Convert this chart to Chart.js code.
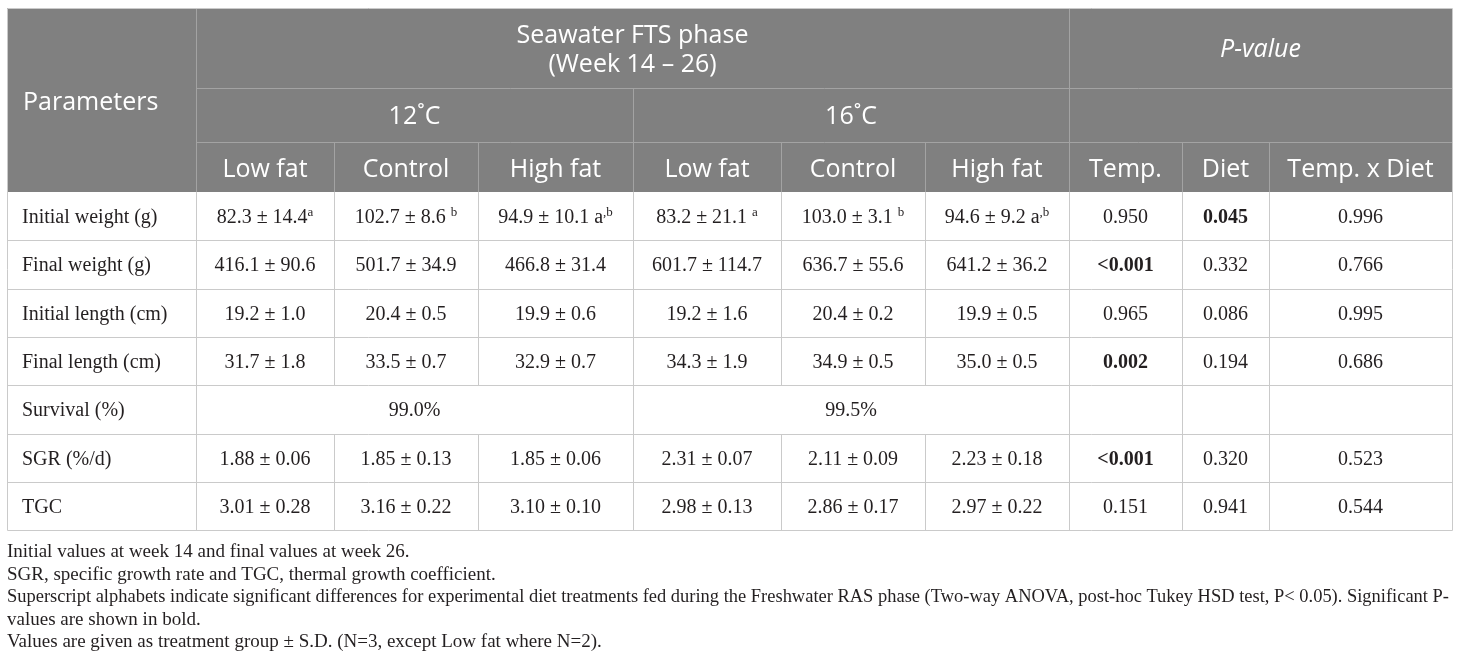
<!DOCTYPE html>
<html>
<head>
<meta charset="utf-8">
<script src="https://cdn.jsdelivr.net/npm/chart.js@4.4.1/dist/chart.umd.min.js"></script>
<style>
  html, body { margin: 0; padding: 0; background: #ffffff; }
  #wrap { width: 1460px; height: 667px; position: relative; }
</style>
</head>
<body>
<div id="wrap"><canvas id="myChart"></canvas></div>
<script>
// table content
const parameters = ['Initial weight (g)', 'Final weight (g)', 'Initial length (cm)', 'Final length (cm)', 'Survival (%)', 'SGR (%/d)', 'TGC'];
const temps = ['12\u02DAC', '16\u02DAC'];
const diets = ['Low fat', 'Control', 'High fat'];
const pHeaders = ['Temp.', 'Diet', 'Temp. x Diet'];

// '^' starts a superscript
const lowFat12 = ['82.3 ± 14.4^a', '416.1 ± 90.6', '19.2 ± 1.0', '31.7 ± 1.8', '', '1.88 ± 0.06', '3.01 ± 0.28'];
const control12 = ['102.7 ± 8.6 ^b', '501.7 ± 34.9', '20.4 ± 0.5', '33.5 ± 0.7', '', '1.85 ± 0.13', '3.16 ± 0.22'];
const highFat12 = ['94.9 ± 10.1 a^,b', '466.8 ± 31.4', '19.9 ± 0.6', '32.9 ± 0.7', '', '1.85 ± 0.06', '3.10 ± 0.10'];
const lowFat16 = ['83.2 ± 21.1 ^a', '601.7 ± 114.7', '19.2 ± 1.6', '34.3 ± 1.9', '', '2.31 ± 0.07', '2.98 ± 0.13'];
const control16 = ['103.0 ± 3.1 ^b', '636.7 ± 55.6', '20.4 ± 0.2', '34.9 ± 0.5', '', '2.11 ± 0.09', '2.86 ± 0.17'];
const highFat16 = ['94.6 ± 9.2 a^,b', '641.2 ± 36.2', '19.9 ± 0.5', '35.0 ± 0.5', '', '2.23 ± 0.18', '2.97 ± 0.22'];
const survival = ['99.0%', '99.5%'];

const pTemp = ['0.950', '<0.001', '0.965', '0.002', '', '<0.001', '0.151'];
const pDiet = ['0.045', '0.332', '0.086', '0.194', '', '0.320', '0.941'];
const pInteraction = ['0.996', '0.766', '0.995', '0.686', '', '0.523', '0.544'];

const notes = [
  'Initial values at week 14 and final values at week 26.',
  'SGR, specific growth rate and TGC, thermal growth coefficient.',
  'Superscript alphabets indicate significant differences for experimental diet treatments fed during the Freshwater RAS phase (Two-way ANOVA, post-hoc Tukey HSD test, P< 0.05). Significant P-',
  'values are shown in bold.',
  'Values are given as treatment group ± S.D. (N=3, except Low fat where N=2).'
];

// layout (in page pixels, mapped through the scales)
const colEdges = [7, 196, 334, 478, 633, 781, 925, 1069, 1182, 1269, 1452];
const headEdges = [8, 88, 142, 192];
const rowH = 48.3;
const bodyBaseOffset = 31;
const noteBase = [557, 579.5, 602, 624.5, 647];

const HEAD_BG = '#808080';
const HEAD_LINE = '#a3a3a3';
const BODY_LINE = '#cacaca';
const TEXT = '#231f20';

const mid = (a, b) => (colEdges[a] + colEdges[b]) / 2;
const rowTop = (r) => headEdges[3] + rowH * r;
const rowBase = (r) => rowTop(r) + bodyBaseOffset;
const isSignificant = (p) => p !== '' && parseFloat(p.replace('<', '')) < 0.05;

// header cells (y = text baseline)
const headCells = [
  { x: colEdges[0] + 16, y: 110, text: 'Parameters', kind: 'headLeft' },
  { x: mid(1, 7), y: 43, text: 'Seawater FTS phase', kind: 'head' },
  { x: mid(1, 7), y: 72, text: '(Week 14 \u2013 26)', kind: 'head' },
  { x: mid(7, 10), y: 57, text: 'P-value', kind: 'headItalic' }
];
temps.forEach((t, i) => {
  headCells.push({ x: mid(1 + i * 3, 4 + i * 3), y: 124, text: t, kind: 'head' });
});
[...diets, ...diets, ...pHeaders].forEach((t, i) => {
  headCells.push({ x: mid(1 + i, 2 + i), y: 177, text: t, kind: 'head' });
});

// body cells
const treatmentCols = [lowFat12, control12, highFat12, lowFat16, control16, highFat16];
const pCols = [pTemp, pDiet, pInteraction];
const bodyCells = [];
parameters.forEach((name, r) => {
  bodyCells.push({ x: colEdges[0] + 15, y: rowBase(r), text: name, kind: 'bodyLeft' });
  if (name.startsWith('Survival')) {
    survival.forEach((s, i) => {
      bodyCells.push({ x: mid(1 + i * 3, 4 + i * 3), y: rowBase(r), text: s, kind: 'body' });
    });
  } else {
    treatmentCols.forEach((col, c) => {
      bodyCells.push({ x: mid(1 + c, 2 + c), y: rowBase(r), text: col[r], kind: 'body' });
    });
  }
  pCols.forEach((col, c) => {
    if (col[r] === '') return;
    bodyCells.push({ x: mid(7 + c, 8 + c), y: rowBase(r), text: col[r], kind: isSignificant(col[r]) ? 'bodyBold' : 'body' });
  });
});

const noteCells = notes.map((t, i) => ({
  x: colEdges[0], y: noteBase[i], text: t, kind: i === 2 ? 'noteFit' : 'note'
}));

const fonts = {
  head: '25px "Open Sans"',
  headLeft: '25px "Open Sans"',
  headItalic: 'italic 25px "Open Sans"',
  body: '20px "Liberation Serif"',
  bodyLeft: '20px "Liberation Serif"',
  bodyBold: 'bold 20px "Liberation Serif"',
  note: '19px "Liberation Serif"',
  noteFit: '19px "Liberation Serif"'
};

const tablePlugin = {
  id: 'tableGrid',
  beforeDatasetsDraw(chart) {
    const { ctx, scales: { x, y } } = chart;
    const px = (v) => x.getPixelForValue(v);
    const py = (v) => y.getPixelForValue(v);
    const line = (x0, y0, x1, y1, color) => {
      ctx.strokeStyle = color;
      ctx.beginPath();
      ctx.moveTo(Math.round(px(x0)) + 0.5, Math.round(py(y0)) + 0.5);
      ctx.lineTo(Math.round(px(x1)) + 0.5, Math.round(py(y1)) + 0.5);
      ctx.stroke();
    };
    const L = colEdges[0], R = colEdges[colEdges.length - 1];
    const bottom = rowTop(parameters.length);
    ctx.save();
    ctx.lineWidth = 1;
    // header block
    ctx.fillStyle = HEAD_BG;
    ctx.fillRect(px(L), py(headEdges[0]), px(R) - px(L), py(headEdges[3]) - py(headEdges[0]));
    line(colEdges[1], headEdges[1], R, headEdges[1], HEAD_LINE);
    line(colEdges[1], headEdges[2], R, headEdges[2], HEAD_LINE);
    line(colEdges[1], headEdges[0], colEdges[1], headEdges[3], HEAD_LINE);
    line(colEdges[7], headEdges[0], colEdges[7], headEdges[3], HEAD_LINE);
    line(colEdges[4], headEdges[1], colEdges[4], headEdges[3], HEAD_LINE);
    for (let c = 2; c < colEdges.length - 1; c++) {
      if (c === 4 || c === 7) continue;
      line(colEdges[c], headEdges[2], colEdges[c], headEdges[3], HEAD_LINE);
    }
    // body grid
    for (let r = 1; r < parameters.length; r++) {
      line(L, rowTop(r), R, rowTop(r), BODY_LINE);
    }
    parameters.forEach((name, r) => {
      for (let c = 1; c < colEdges.length - 1; c++) {
        const merged = name.startsWith('Survival') && [2, 3, 5, 6].includes(c);
        if (!merged) line(colEdges[c], rowTop(r), colEdges[c], rowTop(r + 1), BODY_LINE);
      }
    });
    // outer border
    line(L, headEdges[0], R, headEdges[0], BODY_LINE);
    line(L, bottom, R, bottom, BODY_LINE);
    line(L, headEdges[0], L, bottom, BODY_LINE);
    line(R, headEdges[0], R, bottom, BODY_LINE);
    ctx.restore();
  },
  afterDatasetsDraw(chart) {
    const { ctx } = chart;
    ctx.save();
    ctx.textBaseline = 'alphabetic';
    chart.data.datasets.forEach((ds, di) => {
      const meta = chart.getDatasetMeta(di);
      meta.data.forEach((el, i) => {
        const cell = ds.data[i];
        if (!cell.text) return;
        const isHead = cell.kind.startsWith('head');
        ctx.fillStyle = isHead ? '#ffffff' : TEXT;
        ctx.font = fonts[cell.kind];
        if (cell.kind === 'noteFit') {
          ctx.textAlign = 'left';
          ctx.fillText(cell.text, el.x, el.y, colEdges[colEdges.length - 1] - colEdges[0] - 3);
          return;
        }
        if (cell.kind === 'note' || cell.kind === 'headLeft' || cell.kind === 'bodyLeft') {
          ctx.textAlign = 'left';
          ctx.fillText(cell.text, el.x, el.y);
          return;
        }
        const parts = cell.text.split('^');
        if (parts.length === 1) {
          ctx.textAlign = 'center';
          ctx.fillText(cell.text, el.x, el.y);
          return;
        }
        // main text plus superscript
        const supFont = '13px "Liberation Serif"';
        const wMain = ctx.measureText(parts[0]).width;
        ctx.font = supFont;
        const wSup = ctx.measureText(parts[1]).width;
        const x0 = el.x - (wMain + wSup) / 2;
        ctx.textAlign = 'left';
        ctx.font = fonts[cell.kind];
        ctx.fillText(parts[0], x0, el.y);
        ctx.font = supFont;
        ctx.fillText(parts[1], x0 + wMain, el.y - 7);
      });
    });
    ctx.restore();
  }
};

const ctx = document.getElementById('myChart');
new Chart(ctx, {
  type: 'scatter',
  data: {
    datasets: [
      { label: 'header', data: headCells, pointRadius: 0 },
      { label: 'body', data: bodyCells, pointRadius: 0 },
      { label: 'notes', data: noteCells, pointRadius: 0 }
    ]
  },
  options: {
    responsive: true,
    maintainAspectRatio: false,
    animation: false,
    layout: { padding: 0 },
    plugins: { legend: { display: false }, tooltip: { enabled: false } },
    events: [],
    scales: {
      x: { type: 'linear', min: 0, max: 1460, display: false },
      y: { type: 'linear', min: 0, max: 667, reverse: true, display: false }
    }
  },
  plugins: [tablePlugin]
});
</script>
</body>
</html>
